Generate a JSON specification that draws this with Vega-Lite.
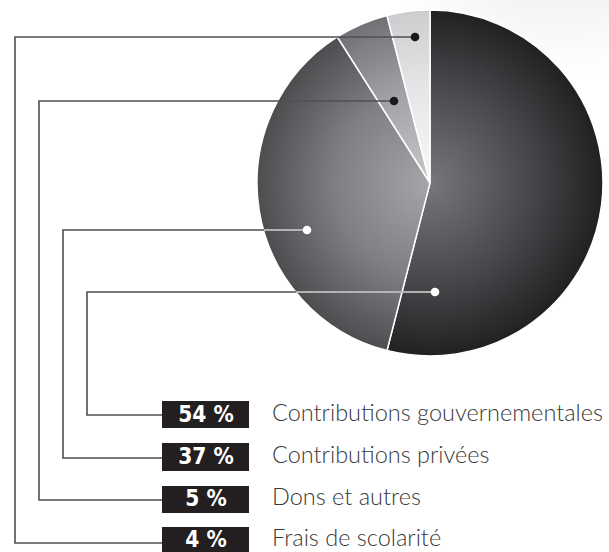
{
  "$schema": "https://vega.github.io/schema/vega-lite/v6.json",
  "width": 609,
  "height": 552,
  "autosize": {"type": "none"},
  "padding": 0,
  "background": "white",
  "config": {"view": {"stroke": null}},
  "datasets": {
    "glow": [{"x0": 280, "x1": 609, "y0": 0, "y1": 90}],
    "slices": [
      {"k": "54", "t0": 0, "t1": 54, "cx": 430, "cy": 183},
      {"k": "37", "t0": 54, "t1": 91, "cx": 430, "cy": 183},
      {"k": "5", "t0": 91, "t1": 96, "cx": 430, "cy": 183},
      {"k": "4", "t0": 96, "t1": 100, "cx": 430, "cy": 183}
    ],
    "leaders": [
      {"id": 1, "s": 1, "x": 435, "y": 292}, {"id": 1, "s": 2, "x": 87, "y": 292}, {"id": 1, "s": 3, "x": 87, "y": 415}, {"id": 1, "s": 4, "x": 162, "y": 415},
      {"id": 2, "s": 1, "x": 307, "y": 230}, {"id": 2, "s": 2, "x": 63, "y": 230}, {"id": 2, "s": 3, "x": 63, "y": 458}, {"id": 2, "s": 4, "x": 162, "y": 458},
      {"id": 3, "s": 1, "x": 394, "y": 101}, {"id": 3, "s": 2, "x": 39, "y": 101}, {"id": 3, "s": 3, "x": 39, "y": 500}, {"id": 3, "s": 4, "x": 162, "y": 500},
      {"id": 4, "s": 1, "x": 415, "y": 37}, {"id": 4, "s": 2, "x": 15, "y": 37}, {"id": 4, "s": 3, "x": 15, "y": 543}, {"id": 4, "s": 4, "x": 162, "y": 543}
    ],
    "inner": [
      {"x": 435, "x2": 296, "y": 292},
      {"x": 307, "x2": 264, "y": 230}
    ],
    "dots": [
      {"x": 435, "y": 292, "tone": "light"},
      {"x": 307, "y": 230, "tone": "light"},
      {"x": 394, "y": 101, "tone": "dark"},
      {"x": 415, "y": 37, "tone": "dark"}
    ],
    "rows": [
      {"pct": "54 %", "label": "Contributions gouvernementales", "bx0": 162, "bx1": 249, "by0": 401, "by1": 428, "tx": 206, "ty": 422, "lx": 272, "ly": 421},
      {"pct": "37 %", "label": "Contributions privées", "bx0": 162, "bx1": 249, "by0": 443, "by1": 471, "tx": 206, "ty": 464, "lx": 272, "ly": 463},
      {"pct": "5 %", "label": "Dons et autres", "bx0": 162, "bx1": 249, "by0": 486, "by1": 513, "tx": 206, "ty": 506, "lx": 272, "ly": 504.5},
      {"pct": "4 %", "label": "Frais de scolarité", "bx0": 162, "bx1": 249, "by0": 527, "by1": 552, "tx": 206, "ty": 547, "lx": 272, "ly": 546}
    ]
  },
  "layer": [
    {
      "data": {"name": "glow"},
      "mark": {"type": "rect", "fill": {"gradient": "radial", "x1": 0.85, "y1": 0, "r1": 0, "x2": 0.85, "y2": 0, "r2": 0.6, "stops": [{"offset": 0, "color": "#e6e6e6"}, {"offset": 0.6, "color": "#f3f3f3"}, {"offset": 1, "color": "#ffffff"}]}},
      "encoding": {
        "x": {"field": "x0", "type": "quantitative", "scale": {"domain": [0, 609], "nice": false, "zero": false}, "axis": null},
        "x2": {"field": "x1"},
        "y": {"field": "y0", "type": "quantitative", "scale": {"domain": [0, 552], "nice": false, "zero": false, "reverse": true}, "axis": null},
        "y2": {"field": "y1"}
      }
    },
    {
      "data": {"name": "slices"},
      "transform": [{"filter": "datum.k == '54'"}],
      "mark": {"type": "arc", "outerRadius": 173, "stroke": "white", "strokeWidth": 1.5,
        "fill": {"gradient": "radial", "x1": 0.312, "y1": 0.5, "r1": 0, "x2": 0.312, "y2": 0.5, "r2": 0.5,
          "stops": [{"offset": 0, "color": "#76777b"}, {"offset": 0.55, "color": "#4a4a4e"}, {"offset": 1, "color": "#212123"}]}},
      "encoding": {
        "x": {"field": "cx", "type": "quantitative"},
        "y": {"field": "cy", "type": "quantitative"},
        "theta": {"field": "t0", "type": "quantitative", "scale": {"domain": [0, 100]}},
        "theta2": {"field": "t1"}
      }
    },
    {
      "data": {"name": "slices"},
      "transform": [{"filter": "datum.k == '37'"}],
      "mark": {"type": "arc", "outerRadius": 173, "stroke": "white", "strokeWidth": 1.5,
        "fill": {"gradient": "radial", "x1": 0.776, "y1": 0.466, "r1": 0, "x2": 0.776, "y2": 0.466, "r2": 0.552,
          "stops": [{"offset": 0, "color": "#a6a6aa"}, {"offset": 0.55, "color": "#7f7f83"}, {"offset": 1, "color": "#4d4d50"}]}},
      "encoding": {
        "x": {"field": "cx", "type": "quantitative"},
        "y": {"field": "cy", "type": "quantitative"},
        "theta": {"field": "t0", "type": "quantitative"},
        "theta2": {"field": "t1"}
      }
    },
    {
      "data": {"name": "slices"},
      "transform": [{"filter": "datum.k == '5'"}],
      "mark": {"type": "arc", "outerRadius": 173, "stroke": "white", "strokeWidth": 1.5,
        "fill": {"gradient": "radial", "x1": 0.777, "y1": 1.0, "r1": 0, "x2": 0.777, "y2": 1.0, "r2": 1.032,
          "stops": [{"offset": 0, "color": "#c8c8cb"}, {"offset": 0.55, "color": "#a2a2a6"}, {"offset": 1, "color": "#717175"}]}},
      "encoding": {
        "x": {"field": "cx", "type": "quantitative"},
        "y": {"field": "cy", "type": "quantitative"},
        "theta": {"field": "t0", "type": "quantitative"},
        "theta2": {"field": "t1"}
      }
    },
    {
      "data": {"name": "slices"},
      "transform": [{"filter": "datum.k == '4'"}],
      "mark": {"type": "arc", "outerRadius": 173, "stroke": "white", "strokeWidth": 1.5,
        "fill": {"gradient": "radial", "x1": 0.624, "y1": 1.0, "r1": 0, "x2": 0.624, "y2": 1.0, "r2": 1.0,
          "stops": [{"offset": 0, "color": "#f8f8f8"}, {"offset": 0.55, "color": "#e6e6e8"}, {"offset": 1, "color": "#cdcdd0"}]}},
      "encoding": {
        "x": {"field": "cx", "type": "quantitative"},
        "y": {"field": "cy", "type": "quantitative"},
        "theta": {"field": "t0", "type": "quantitative"},
        "theta2": {"field": "t1"}
      }
    },
    {
      "data": {"name": "leaders"},
      "mark": {"type": "line", "color": "#505052", "strokeWidth": 1.6, "interpolate": "linear"},
      "encoding": {
        "x": {"field": "x", "type": "quantitative"},
        "y": {"field": "y", "type": "quantitative"},
        "detail": {"field": "id", "type": "nominal"},
        "order": {"field": "s", "type": "quantitative"}
      }
    },
    {
      "data": {"name": "inner"},
      "mark": {"type": "rule", "color": "#d4d4d6", "strokeWidth": 1.6},
      "encoding": {
        "x": {"field": "x", "type": "quantitative"},
        "x2": {"field": "x2"},
        "y": {"field": "y", "type": "quantitative"}
      }
    },
    {
      "data": {"name": "dots"},
      "mark": {"type": "point", "shape": "circle", "filled": true, "opacity": 1, "size": 75},
      "encoding": {
        "x": {"field": "x", "type": "quantitative"},
        "y": {"field": "y", "type": "quantitative"},
        "color": {"field": "tone", "type": "nominal", "scale": {"domain": ["light", "dark"], "range": ["#ffffff", "#1a1a1a"]}, "legend": null}
      }
    },
    {
      "data": {"name": "rows"},
      "mark": {"type": "rect", "color": "#231f20"},
      "encoding": {
        "x": {"field": "bx0", "type": "quantitative"},
        "x2": {"field": "bx1"},
        "y": {"field": "by0", "type": "quantitative"},
        "y2": {"field": "by1"}
      }
    },
    {
      "data": {"name": "rows"},
      "mark": {"type": "text", "font": "DejaVu Sans Condensed", "fontWeight": "bold", "fontSize": 22.5, "color": "white", "align": "center", "baseline": "alphabetic"},
      "encoding": {
        "x": {"field": "tx", "type": "quantitative"},
        "y": {"field": "ty", "type": "quantitative"},
        "text": {"field": "pct"}
      }
    },
    {
      "data": {"name": "rows"},
      "mark": {"type": "text", "font": "Lato", "fontWeight": 300, "fontSize": 23.5, "color": "#3a3a3a", "align": "left", "baseline": "alphabetic"},
      "encoding": {
        "x": {"field": "lx", "type": "quantitative"},
        "y": {"field": "ly", "type": "quantitative"},
        "text": {"field": "label"}
      }
    }
  ]
}
